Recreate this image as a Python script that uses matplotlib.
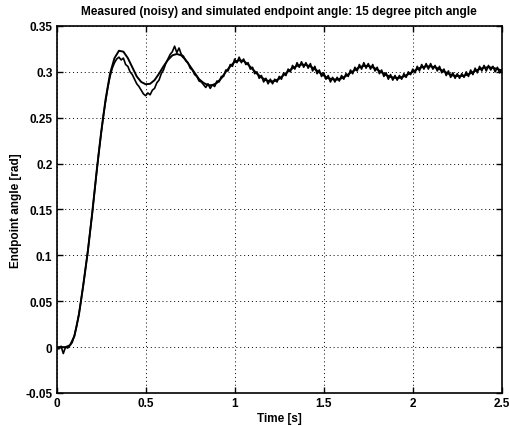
import numpy as np
import matplotlib
matplotlib.use("Agg")
import matplotlib.pyplot as plt

# ---- data ----
# simulated response, sampled every 0.025 s from 0 to 2.5 s
sim_angle = [
    0.0, 0.0, 0.0, 0.002, 0.012, 0.035, 0.068, 0.104, 0.146, 0.192,
    0.234, 0.270, 0.298, 0.315, 0.323, 0.322, 0.315, 0.305, 0.295, 0.289,
    0.2865, 0.287, 0.291, 0.298, 0.306, 0.313, 0.318, 0.3195, 0.318, 0.313,
    0.306, 0.299, 0.292, 0.288, 0.2855, 0.2855, 0.288, 0.293, 0.300, 0.306,
    0.311, 0.3125, 0.312, 0.308, 0.303, 0.298, 0.294, 0.291, 0.2895, 0.290,
    0.2925, 0.2965, 0.3005, 0.304, 0.3065, 0.308, 0.3075, 0.306, 0.303, 0.2995,
    0.296, 0.293, 0.292, 0.2915, 0.293, 0.2955, 0.299, 0.302, 0.305, 0.3065,
    0.3065, 0.305, 0.3025, 0.2995, 0.2965, 0.2945, 0.2935, 0.2935, 0.295, 0.2975,
    0.300, 0.303, 0.305, 0.306, 0.306, 0.305, 0.303, 0.3005, 0.298, 0.296,
    0.2955, 0.2955, 0.2965, 0.2985, 0.301, 0.303, 0.3045, 0.305, 0.3045, 0.303,
    0.3015,
]

# measured (noisy) response, sampled every 0.0125 s from 0 to 2.5 s
meas_angle = [
    0.000, -0.002, 0.001, -0.007, 0.000, -0.001, 0.002, 0.005, 0.013, 0.023,
    0.036, 0.051, 0.068, 0.086, 0.104, 0.125, 0.146, 0.169, 0.191, 0.213,
    0.233, 0.252, 0.268, 0.283, 0.295, 0.304, 0.310, 0.314, 0.316, 0.313,
    0.315, 0.308, 0.306, 0.300, 0.297, 0.292, 0.287, 0.284, 0.280, 0.276,
    0.274, 0.277, 0.275, 0.280, 0.282, 0.288, 0.291, 0.298, 0.302, 0.309,
    0.314, 0.319, 0.322, 0.328, 0.321, 0.326, 0.319, 0.317, 0.312, 0.310,
    0.304, 0.302, 0.297, 0.295, 0.290, 0.289, 0.286, 0.283, 0.287, 0.282,
    0.286, 0.284, 0.290, 0.289, 0.295, 0.295, 0.302, 0.301, 0.308, 0.306,
    0.314, 0.310, 0.316, 0.310, 0.314, 0.308, 0.310, 0.303, 0.305, 0.298,
    0.300, 0.293, 0.296, 0.289, 0.293, 0.287, 0.292, 0.287, 0.292, 0.289,
    0.295, 0.292, 0.299, 0.296, 0.303, 0.300, 0.307, 0.303, 0.310, 0.305,
    0.311, 0.305, 0.310, 0.304, 0.309, 0.301, 0.306, 0.298, 0.302, 0.295,
    0.299, 0.292, 0.296, 0.289, 0.294, 0.289, 0.294, 0.290, 0.296, 0.292,
    0.298, 0.295, 0.302, 0.298, 0.305, 0.301, 0.308, 0.303, 0.310, 0.304,
    0.309, 0.303, 0.308, 0.301, 0.305, 0.298, 0.302, 0.295, 0.299, 0.292,
    0.297, 0.291, 0.296, 0.291, 0.296, 0.292, 0.298, 0.294, 0.300, 0.297,
    0.303, 0.299, 0.306, 0.301, 0.308, 0.303, 0.309, 0.303, 0.309, 0.303,
    0.307, 0.301, 0.306, 0.299, 0.303, 0.296, 0.301, 0.294, 0.299, 0.293,
    0.298, 0.293, 0.298, 0.294, 0.300, 0.295, 0.302, 0.297, 0.304, 0.299,
    0.306, 0.301, 0.307, 0.301, 0.307, 0.302, 0.306, 0.300, 0.305, 0.299,
    0.302,
]

xticks = [0, 0.5, 1, 1.5, 2, 2.5]
xtick_labels = ["0", "0.5", "1", "1.5", "2", "2.5"]
yticks = [-0.05, 0, 0.05, 0.1, 0.15, 0.2, 0.25, 0.3, 0.35]
ytick_labels = ["-0.05", "0", "0.05", "0.1", "0.15", "0.2", "0.25", "0.3", "0.35"]

t_sim = np.linspace(0, 2.5, len(sim_angle))
t_meas = np.linspace(0, 2.5, len(meas_angle))

plt.rcParams["font.family"] = ["Liberation Sans", "DejaVu Sans"]
plt.rcParams["font.weight"] = "bold"

fig = plt.figure(figsize=(5.1, 4.27), dpi=100)
ax = fig.add_axes([0.111, 0.0773, 0.873, 0.8595])

ax.plot(t_sim, sim_angle, color="black", lw=1.4)
ax.plot(t_meas, meas_angle, color="black", lw=1.2)

ax.set_xlim(0, 2.5)
ax.set_ylim(-0.05, 0.35)
ax.set_xticks(xticks)
ax.set_xticklabels(xtick_labels)
ax.set_yticks(yticks)
ax.set_yticklabels(ytick_labels)
ax.grid(True, color="black", linestyle=(0, (1, 3)), linewidth=0.7)
ax.tick_params(direction="in", length=4, width=1, top=True, right=True,
               labelsize=8.5, pad=3)
for s in ax.spines.values():
    s.set_linewidth(1.2)

ax.set_xlabel("Time [s]", fontsize=8.5, fontweight="bold", labelpad=2)
ax.set_ylabel("Endpoint angle [rad]", fontsize=8.5, fontweight="bold", labelpad=2.5)
ax.set_title("Measured (noisy) and simulated endpoint angle: 15 degree pitch angle",
             fontsize=8.5, fontweight="bold", pad=8.5)

fig.savefig("out.png", dpi=100)
